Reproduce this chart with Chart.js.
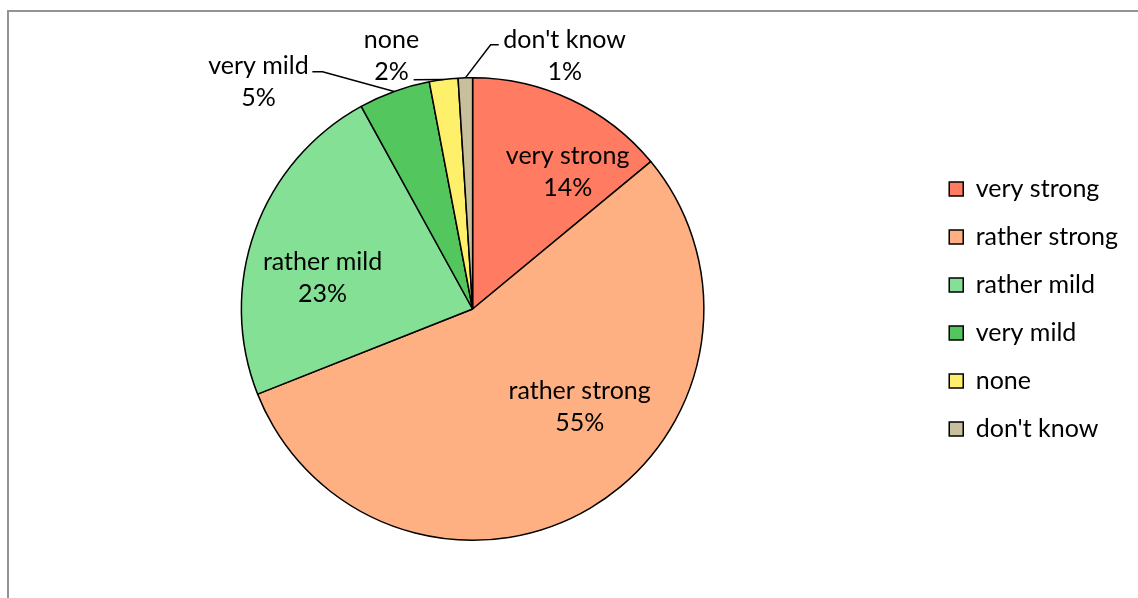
<!DOCTYPE html>
<html>
<head>
<meta charset="utf-8">
<script src="https://cdn.jsdelivr.net/npm/chart.js@4/dist/chart.umd.min.js"></script>
<style>
  html, body { margin: 0; padding: 0; background: #ffffff; overflow: hidden; }
  #frame {
    position: absolute; left: 7px; top: 10px; width: 1200px; height: 700px;
    border-left: 2px solid #939393; border-top: 2px solid #939393;
  }
  #wrap { position: absolute; left: 0; top: 0; width: 1138px; height: 598px; }
</style>
</head>
<body>
<div id="frame"></div>
<div id="wrap"><canvas id="c"></canvas></div>
<script>
// Survey answers and their shares (percent)
const categories = ['very strong', 'rather strong', 'rather mild', 'very mild', 'none', "don't know"];
const shares = [14, 55, 23, 5, 2, 1];
const sliceColors = ['#FF7C62', '#FFB083', '#84E095', '#53C75E', '#FFF06B', '#C8BF9C'];

const FONT_FAMILY = 'Lato, "Open Sans", sans-serif';
const FONT_SIZE = 25;
const LINE_GAP = 32;

// Where each slice's label sits, in units of the pie radius from its centre.
// Outside labels carry the bend points of their leader line.
const labelPlacement = [
  { x: 0.411, y: -0.593 },
  { x: 0.463, y: 0.424 },
  { x: -0.649, y: -0.134 },
  { x: -0.926, y: -0.983, lead: [[-0.693, -1.026], [-0.649, -1.026]] },
  { x: -0.351, y: -1.095, lead: [[-0.255, -0.991]] },
  { x: 0.398, y: -1.095, lead: [[0.113, -1.143], [0.078, -1.143]] }
];

const sliceLabels = {
  id: 'sliceLabels',
  afterDatasetsDraw(chart) {
    const ctx = chart.ctx;
    const meta = chart.getDatasetMeta(0);
    const values = chart.data.datasets[0].data;
    ctx.save();
    ctx.font = FONT_SIZE + 'px ' + FONT_FAMILY;
    ctx.fillStyle = '#000000';
    ctx.textAlign = 'center';
    ctx.textBaseline = 'middle';
    meta.data.forEach((arc, i) => {
      const p = arc.getProps(['x', 'y', 'startAngle', 'endAngle', 'outerRadius'], true);
      const r = p.outerRadius;
      const place = labelPlacement[i];
      const cx = p.x + place.x * r;
      const cy = p.y + place.y * r;
      if (place.lead) {
        const mid = (p.startAngle + p.endAngle) / 2;
        ctx.beginPath();
        ctx.strokeStyle = '#000000';
        ctx.lineWidth = 1.5;
        place.lead.forEach((pt, k) => {
          const lx = p.x + pt[0] * r, ly = p.y + pt[1] * r;
          if (k === 0) ctx.moveTo(lx, ly); else ctx.lineTo(lx, ly);
        });
        ctx.lineTo(p.x + Math.cos(mid) * r, p.y + Math.sin(mid) * r);
        ctx.stroke();
      }
      ctx.fillText(chart.data.labels[i], cx, cy - LINE_GAP / 2);
      ctx.fillText(values[i] + '%', cx, cy + LINE_GAP / 2);
    });
    ctx.restore();
  }
};

new Chart(document.getElementById('c'), {
  type: 'pie',
  data: {
    labels: categories,
    datasets: [{
      data: shares,
      backgroundColor: sliceColors,
      borderColor: '#000000',
      borderWidth: 1.5
    }]
  },
  options: {
    responsive: true,
    maintainAspectRatio: false,
    animation: false,
    layout: { padding: { left: 19, right: 10, top: 77, bottom: 57 } },
    plugins: {
      tooltip: { enabled: false },
      legend: {
        position: 'right',
        labels: {
          color: '#000000',
          font: { family: FONT_FAMILY, size: FONT_SIZE },
          boxWidth: 14,
          boxHeight: 14,
          padding: 23
        }
      }
    }
  },
  plugins: [sliceLabels]
});
</script>
</body>
</html>
